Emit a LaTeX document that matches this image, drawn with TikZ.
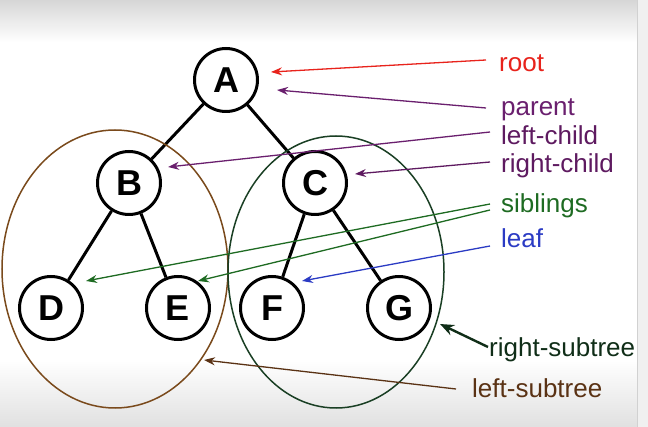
\documentclass[tikz,border=0pt]{standalone}
\usepackage{fontspec}
\setmainfont{Liberation Sans}
\usetikzlibrary{arrows.meta}
\definecolor{cRoot}{HTML}{E8231C}
\definecolor{cPar}{HTML}{6A1F6E}
\definecolor{cChild}{HTML}{5E1A60}
\definecolor{cSib}{HTML}{1E6B22}
\definecolor{cLeaf}{HTML}{2B3BC4}
\definecolor{cRsub}{HTML}{102E18}
\definecolor{cLsub}{HTML}{5A3214}
\definecolor{cBrown}{HTML}{7A4A1C}
\definecolor{cGreenE}{HTML}{1A3F24}
\tikzset{
  tnode/.style={circle, draw=black, line width=3pt, minimum size=63pt, inner sep=0pt,
    font=\fontsize{36}{38}\selectfont\bfseries},
  tedge/.style={line width=3pt, black},
  lab/.style={anchor=base west, inner sep=0pt, font=\fontsize{26}{30}\selectfont},
  pt/.style={-{Stealth[length=11pt,width=8pt]}, line width=1.3pt},
}
\begin{document}
\begin{tikzpicture}[x=1pt,y=-1pt]
\useasboundingbox (0,0) rectangle (648,427);
% background
\fill[white] (0,0) rectangle (648,427);
\shade[top color=black!16, bottom color=white] (0,0) rectangle (648,42);
\shade[top color=white, bottom color=black!12] (0,360) rectangle (648,427);
\fill[black!6] (637,0) rectangle (648,427);
\draw[black!18, line width=1pt] (637,0) -- (637,427);

% tree nodes
\node[tnode] (A) at (226,80) {A};
\node[tnode] (B) at (129,183) {B};
\node[tnode] (C) at (315,183) {C};
\node[tnode] (D) at (51,308) {D};
\node[tnode] (E) at (178,308) {E};
\node[tnode] (F) at (272,308) {F};
\node[tnode] (G) at (399,308) {G};

\draw[tedge] (A) -- (B);
\draw[tedge] (A) -- (C);
\draw[tedge] (B) -- (D);
\draw[tedge] (B) -- (E);
\draw[tedge] (C) -- (F);
\draw[tedge] (C) -- (G);

% subtree ellipses
\draw[cBrown, line width=1.5pt] (115,269) ellipse [x radius=113pt, y radius=139pt];
\draw[cGreenE, line width=1.5pt] (336,272) ellipse [x radius=108pt, y radius=136pt];

% labels
\node[lab, text=cRoot] (lroot) at (499,72) {root};
\node[lab, text=cPar] (lpar) at (501,116) {parent};
\node[lab, text=cChild] (llc) at (501,145) {left-child};
\node[lab, text=cChild] (lrc) at (501,173) {right-child};
\node[lab, text=cSib] (lsib) at (501,213) {siblings};
\node[lab, text=cLeaf] (lleaf) at (501,248) {leaf};
\node[lab, text=cRsub] (lrs) at (489,357) {right-subtree};
\node[lab, text=cLsub] (lls) at (472,398) {left-subtree};

% arrow coordinates
\coordinate (sroot) at (486,60);
\coordinate (troot) at (271,72);
\coordinate (spar) at (486,108);
\coordinate (tpar) at (277,90);
\coordinate (slc) at (490,132);
\coordinate (tlc) at (168,167);
\coordinate (src) at (490,162);
\coordinate (trc) at (355,174);
\coordinate (ssib1) at (490,204);
\coordinate (tsib1) at (86,281);
\coordinate (ssib2) at (490,210);
\coordinate (tsib2) at (198,281);
\coordinate (sleaf) at (490,246);
\coordinate (tleaf) at (302,281);
\coordinate (srs) at (488,347);
\coordinate (trs) at (440,324);
\coordinate (sls) at (456,389);
\coordinate (tls) at (204,360);

\draw[pt, cRoot] (sroot) -- (troot);
\draw[pt, cPar] (spar) -- (tpar);
\draw[pt, cPar] (slc) -- (tlc);
\draw[pt, cChild] (src) -- (trc);
\draw[pt, cSib] (ssib1) -- (tsib1);
\draw[pt, cSib] (ssib2) -- (tsib2);
\draw[pt, cLeaf] (sleaf) -- (tleaf);
\draw[-{Stealth[length=14pt,width=11pt]}, line width=2.4pt, cRsub] (srs) -- (trs);
\draw[pt, cLsub] (sls) -- (tls);
\end{tikzpicture}
\end{document}
